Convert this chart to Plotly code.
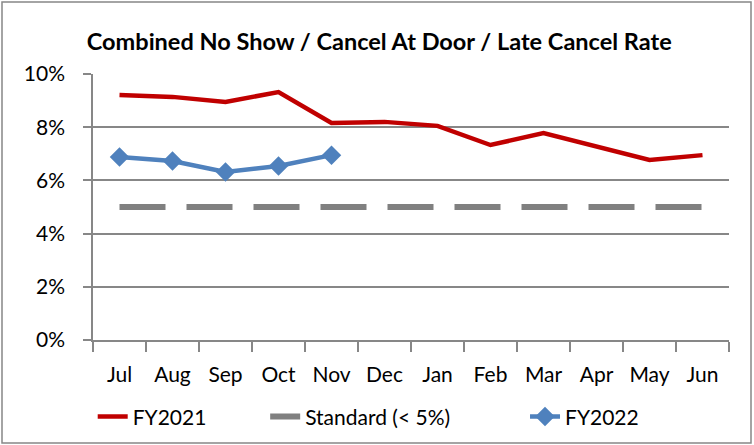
import plotly.graph_objects as go

months = ["Jul", "Aug", "Sep", "Oct", "Nov", "Dec", "Jan", "Feb", "Mar", "Apr", "May", "Jun"]
fy2021 = [0.0921, 0.0914, 0.0895, 0.0932, 0.0816, 0.0820, 0.0805, 0.0733, 0.0778, 0.0726, 0.0677, 0.0695]
standard = [0.05] * 12
fy2022 = [0.0688, 0.0673, 0.0632, 0.0654, 0.0695]
fy2022_months = months[:5]
series_names = ["FY2021", "Standard (< 5%)", "FY2022"]

FONT = "Lato"
GRID = "#878787"
PAD1 = "\u00a0" * 10
PAD2 = "\u00a0" * 13

fig = go.Figure()
fig.add_trace(go.Scatter(x=months, y=fy2021, mode="lines", name=series_names[0] + PAD1,
                         line=dict(color="#C00000", width=4.5)))
fig.add_trace(go.Scatter(x=months, y=standard, mode="lines", name=series_names[1] + PAD2,
                         line=dict(color="#808080", width=6, dash="46px,21px")))
fig.add_trace(go.Scatter(x=fy2022_months, y=fy2022, mode="lines+markers", name=series_names[2],
                         line=dict(color="#4F81BD", width=4.5),
                         marker=dict(symbol="diamond", size=15, color="#4F81BD")))

fig.update_layout(
    width=754, height=445,
    margin=dict(l=93, r=25, t=74, b=105, autoexpand=False),
    paper_bgcolor="white", plot_bgcolor="white",
    font=dict(family=FONT, color="black", size=21),
    title=dict(text="<b>Combined No Show / Cancel At Door / Late Cancel Rate</b>",
               x=0.503, xref="container", xanchor="center", y=0.906, yanchor="middle",
               font=dict(family=FONT, size=23.5, color="black")),
    showlegend=True,
    legend=dict(orientation="h", x=0.489, xanchor="center", xref="container",
                y=0.063, yanchor="middle", yref="container", font=dict(size=21),
                traceorder="normal", itemwidth=30),
    xaxis=dict(type="category", range=[-0.5, 11.5], showgrid=False,
               showline=True, linecolor=GRID, linewidth=1.5,
               ticks="outside", tickson="boundaries", ticklen=10, tickcolor=GRID,
               tickwidth=1.5, ticklabelstandoff=15, tickfont=dict(size=21),
               tickangle=0),
    yaxis=dict(range=[0, 0.1], dtick=0.02, tickformat=".0%",
               showgrid=True, gridcolor=GRID, gridwidth=1.5,
               showline=True, linecolor=GRID, linewidth=1.5,
               ticks="outside", ticklen=8, tickcolor=GRID, tickwidth=1.5,
               ticklabelstandoff=14, tickfont=dict(size=21), zeroline=False),
    shapes=[dict(type="rect", xref="paper", yref="paper",
                 x0=(2 - 93) / 636, x1=(751 - 93) / 636,
                 y0=(340 - 443) / 266, y1=(340 - 2) / 266,
                 line=dict(color=GRID, width=1.5), layer="below")],
)

fig.write_html("out.html", config={"displayModeBar": False},
               post_script="document.body.style.margin='0';")
